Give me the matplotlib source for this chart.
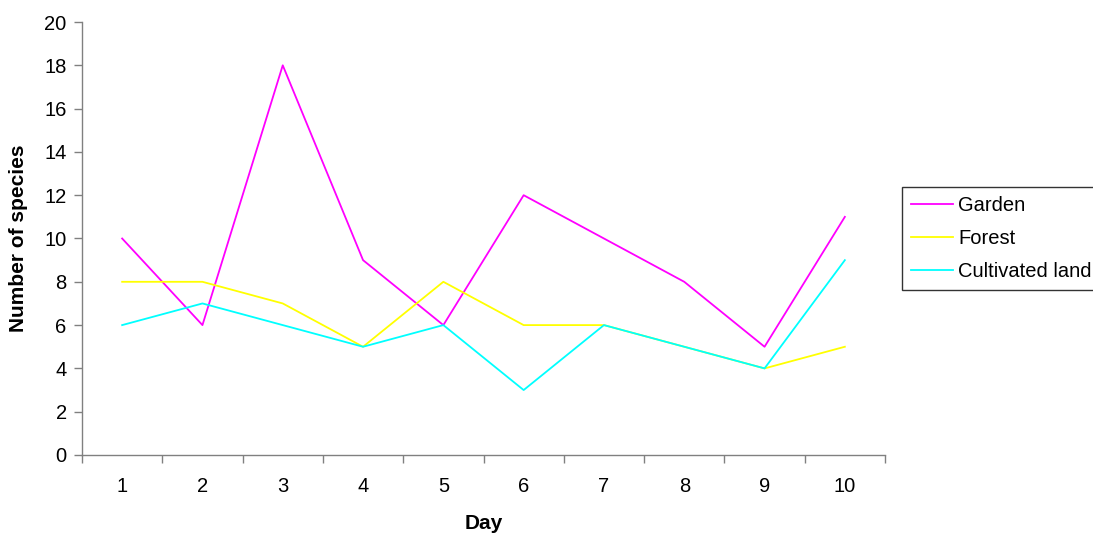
import matplotlib
matplotlib.use("Agg")
import matplotlib.pyplot as plt

plt.rcParams["font.family"] = ["Liberation Sans", "DejaVu Sans"]

days = list(range(1, 11))
garden = [10, 6, 18, 9, 6, 12, 10, 8, 5, 11]
forest = [8, 8, 7, 5, 8, 6, 6, 5, 4, 5]
cultivated = [6, 7, 6, 5, 6, 3, 6, 5, 4, 9]

fig = plt.figure(figsize=(10.93, 5.34), dpi=100)
ax = fig.add_axes([82 / 1093, 79 / 534, 803 / 1093, 433 / 534])

ax.plot(days, garden, color="#FF00FF", lw=1.3, label="Garden")
ax.plot(days, forest, color="#FFFF00", lw=1.3, label="Forest")
ax.plot(days, cultivated, color="#00FFFF", lw=1.3, label="Cultivated land")

ax.set_xlim(0.5, 10.5)
ax.set_ylim(0, 20)
ax.set_yticks(range(0, 21, 2))
ax.set_xticks(days)
ax.set_xticks([d + 0.5 for d in range(0, 11)], minor=True)
ax.tick_params(axis="x", which="major", length=0, pad=16, labelsize=14.5)
ax.tick_params(axis="x", which="minor", length=6, width=1, color="#808080", direction="out")
ax.tick_params(axis="y", length=6, width=1, color="#808080", direction="out", labelsize=14.5, pad=5)

for s in ["top", "right"]:
    ax.spines[s].set_visible(False)
for s in ["left", "bottom"]:
    ax.spines[s].set_color("#808080")
    ax.spines[s].set_linewidth(1)

ax.set_xlabel("Day", fontsize=15, fontweight="bold", labelpad=13)
ax.set_ylabel("Number of species", fontsize=15, fontweight="bold", labelpad=12)

leg = fig.legend(loc="upper left", bbox_to_anchor=(902 / 1093, 347 / 534),
                 fontsize=14.5, frameon=True, fancybox=False, edgecolor="black",
                 handlelength=2.1, handletextpad=0.25, borderpad=0.45,
                 labelspacing=0.7, borderaxespad=0)
leg.get_frame().set_linewidth(1)

fig.savefig("out.png", dpi=100)
